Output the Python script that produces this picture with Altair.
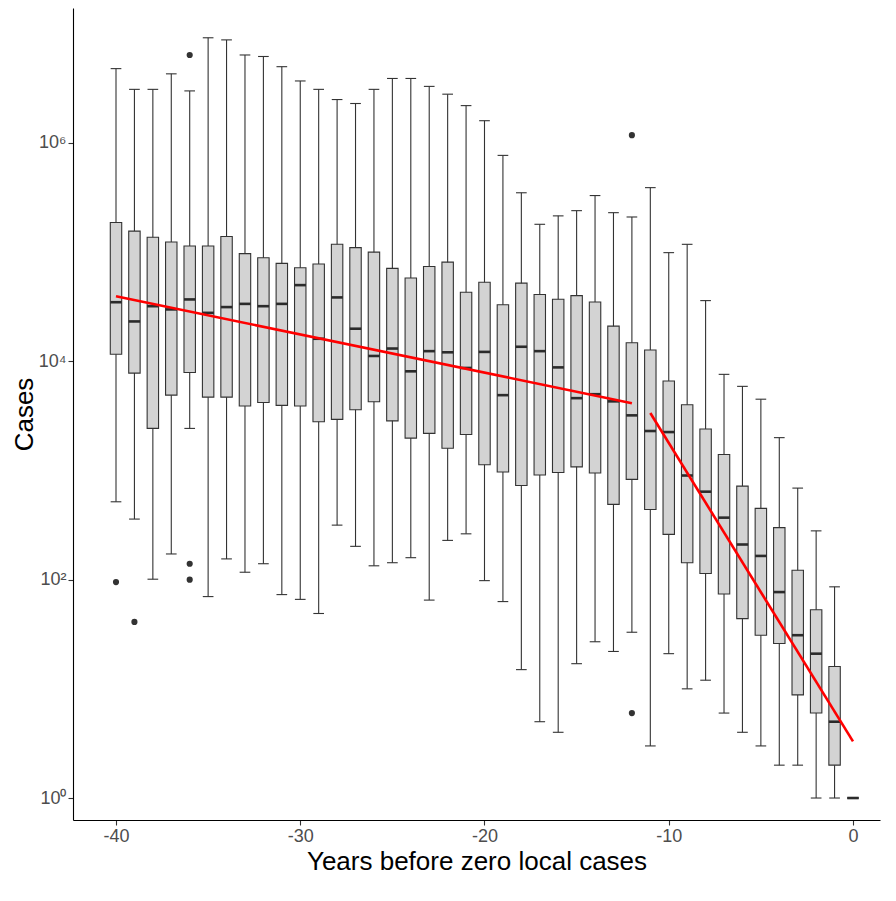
import altair as alt
import pandas as pd

# ---- data (cases, log scale) ----
years = list(range(-40, 1))

whisker_high = [4.8e6, 3.1e6, 3.1e6, 4.3e6, 3.0e6, 9.2e6, 8.8e6, 6.4e6, 6.2e6, 5.0e6,
                3.7e6, 3.1e6, 2.5e6, 2.3e6, 3.1e6, 3.9e6, 3.9e6, 3.3e6, 2.8e6, 2.2e6,
                1.6e6, 770000, 350000, 180000, 215000, 240000, 330000, 230000, 210000, 390000,
                99000, 118000, 36000, 7600, 5900, 4500, 2000, 690, 280, 86, 1]
box_q3 = [187000, 156000, 137000, 124000, 114000, 114000, 139000, 97000, 89000, 79000,
          72000, 78000, 118000, 110000, 100000, 71000, 58000, 74000, 81000, 43000,
          53000, 33000, 52000, 41000, 37000, 40000, 35000, 21000, 14800, 12700,
          6600, 4000, 2400, 1400, 720, 450, 300, 122, 53, 16, 1]
box_median = [34800, 23200, 32000, 29900, 36900, 27800, 31400, 33600, 32000, 33600,
              49900, 16100, 38500, 19900, 11200, 13100, 8100, 12400, 12100, 8700,
              12200, 4900, 13600, 12400, 8800, 4600, 5000, 4300, 3200, 2300,
              2250, 900, 640, 370, 210, 165, 77, 31, 21, 5, 1]
box_q1 = [11600, 7800, 2430, 4900, 7900, 4700, 4700, 3900, 4200, 3950,
          3900, 2800, 2940, 3600, 4260, 2850, 1980, 2190, 1600, 2140,
          1130, 970, 730, 910, 960, 1080, 950, 490, 830, 440,
          260, 143, 114, 74, 44, 31, 26, 8.8, 6, 2, 1]
whisker_low = [517, 359, 101, 172, 2430, 70, 155, 117, 140, 73,
               66, 49, 316, 202, 134, 143, 159, 65, 229, 263,
               98, 63, 15, 5, 4, 17, 27, 22, 33, 3,
               21, 10, 12, 6, 4, 3, 2, 2, 1, 1, 1]

outlier_year = [-40, -39, -36, -36, -36, -12, -12]
outlier_cases = [95, 41, 6.4e6, 140, 100, 1.18e6, 6]

fit_year = [-40, -12, -11, 0]
fit_cases = [39500, 4140, 3360, 3.3]
fit_segment = ["before", "before", "after", "after"]

df = pd.DataFrame({"year": years, "low": whisker_low, "q1": box_q1,
                   "med": box_median, "q3": box_q3, "high": whisker_high})
out_df = pd.DataFrame({"year": outlier_year, "cases": outlier_cases})
fit_df = pd.DataFrame({"year": fit_year, "cases": fit_cases, "segment": fit_segment})

BOX_HALF = 0.31
CAP_HALF = 0.29

x_scale = alt.Scale(domain=[-42.334, 1.466], nice=False, zero=False)
y_scale = alt.Scale(type="log", domain=[0.629, 1.724e7], nice=False)

x_axis = alt.Axis(values=[-40, -30, -20, -10, 0], labelExpr="'' + datum.value",
                  title="Years before zero local cases", titlePadding=3)
y_axis = alt.Axis(values=[1, 100, 10000, 1000000],
                  labelExpr="datum.value == 1 ? '10⁰' : datum.value == 100 ? '10²' : datum.value == 10000 ? '10⁴' : '10⁶'",
                  title="Cases", titlePadding=1)

XT = "Years before zero local cases"
YT = "Cases"

base = alt.Chart(df)

whisker = base.mark_rule(color="#333333", strokeWidth=1.1).encode(
    x=alt.X("year:Q", scale=x_scale, axis=x_axis, title=XT),
    y=alt.Y("low:Q", scale=y_scale, axis=y_axis, title=YT),
    y2="high:Q",
)

cap_base = base.transform_calculate(
    cl=f"datum.year - {CAP_HALF}", cr=f"datum.year + {CAP_HALF}"
)
cap_low = cap_base.mark_rule(color="#333333", strokeWidth=1.1).encode(
    x=alt.X("cl:Q", scale=x_scale, axis=x_axis, title=XT), x2="cr:Q",
    y=alt.Y("low:Q", scale=y_scale, axis=y_axis, title=YT),
)
cap_high = cap_base.mark_rule(color="#333333", strokeWidth=1.1).encode(
    x=alt.X("cl:Q", scale=x_scale, axis=x_axis, title=XT), x2="cr:Q",
    y=alt.Y("high:Q", scale=y_scale, axis=y_axis, title=YT),
)

box_base = base.transform_calculate(
    bl=f"datum.year - {BOX_HALF}", br=f"datum.year + {BOX_HALF}"
)
box = box_base.mark_rect(fill="#D3D3D3", stroke="#333333", strokeWidth=1.1).encode(
    x=alt.X("bl:Q", scale=x_scale, axis=x_axis, title=XT), x2="br:Q",
    y=alt.Y("q1:Q", scale=y_scale, axis=y_axis, title=YT), y2="q3:Q",
)
median = box_base.mark_rule(color="#2B2B2B", strokeWidth=2.6).encode(
    x=alt.X("bl:Q", scale=x_scale, axis=x_axis, title=XT), x2="br:Q",
    y=alt.Y("med:Q", scale=y_scale, axis=y_axis, title=YT),
)

outliers = alt.Chart(out_df).mark_circle(size=38, color="#333333", opacity=1).encode(
    x=alt.X("year:Q", scale=x_scale, axis=x_axis, title=XT),
    y=alt.Y("cases:Q", scale=y_scale, axis=y_axis, title=YT),
)

fit = alt.Chart(fit_df).mark_line(color="#FF0000", strokeWidth=2.6).encode(
    x=alt.X("year:Q", scale=x_scale, axis=x_axis, title=XT),
    y=alt.Y("cases:Q", scale=y_scale, axis=y_axis, title=YT),
    detail="segment:N",
)

chart = alt.layer(whisker, cap_low, cap_high, box, median, outliers, fit).properties(
    width=807,
    height=812,
    autosize=alt.AutoSizeParams(type="none"),
    padding={"left": 65, "top": 0, "right": 8, "bottom": 64},
).configure_axis(
    grid=False,
    domainColor="black",
    domainWidth=1.1,
    tickColor="#333333",
    tickWidth=1.1,
    tickSize=5,
    labelColor="#4D4D4D",
    labelFont="Liberation Sans",
    labelFontSize=18,
    labelPadding=2,
    titleFont="Liberation Sans",
    titleFontSize=26,
    titleFontWeight="normal",
    titleColor="black",
).configure_view(stroke=None)

chart.save("out.html", embed_options={"renderer": "svg", "actions": False})
